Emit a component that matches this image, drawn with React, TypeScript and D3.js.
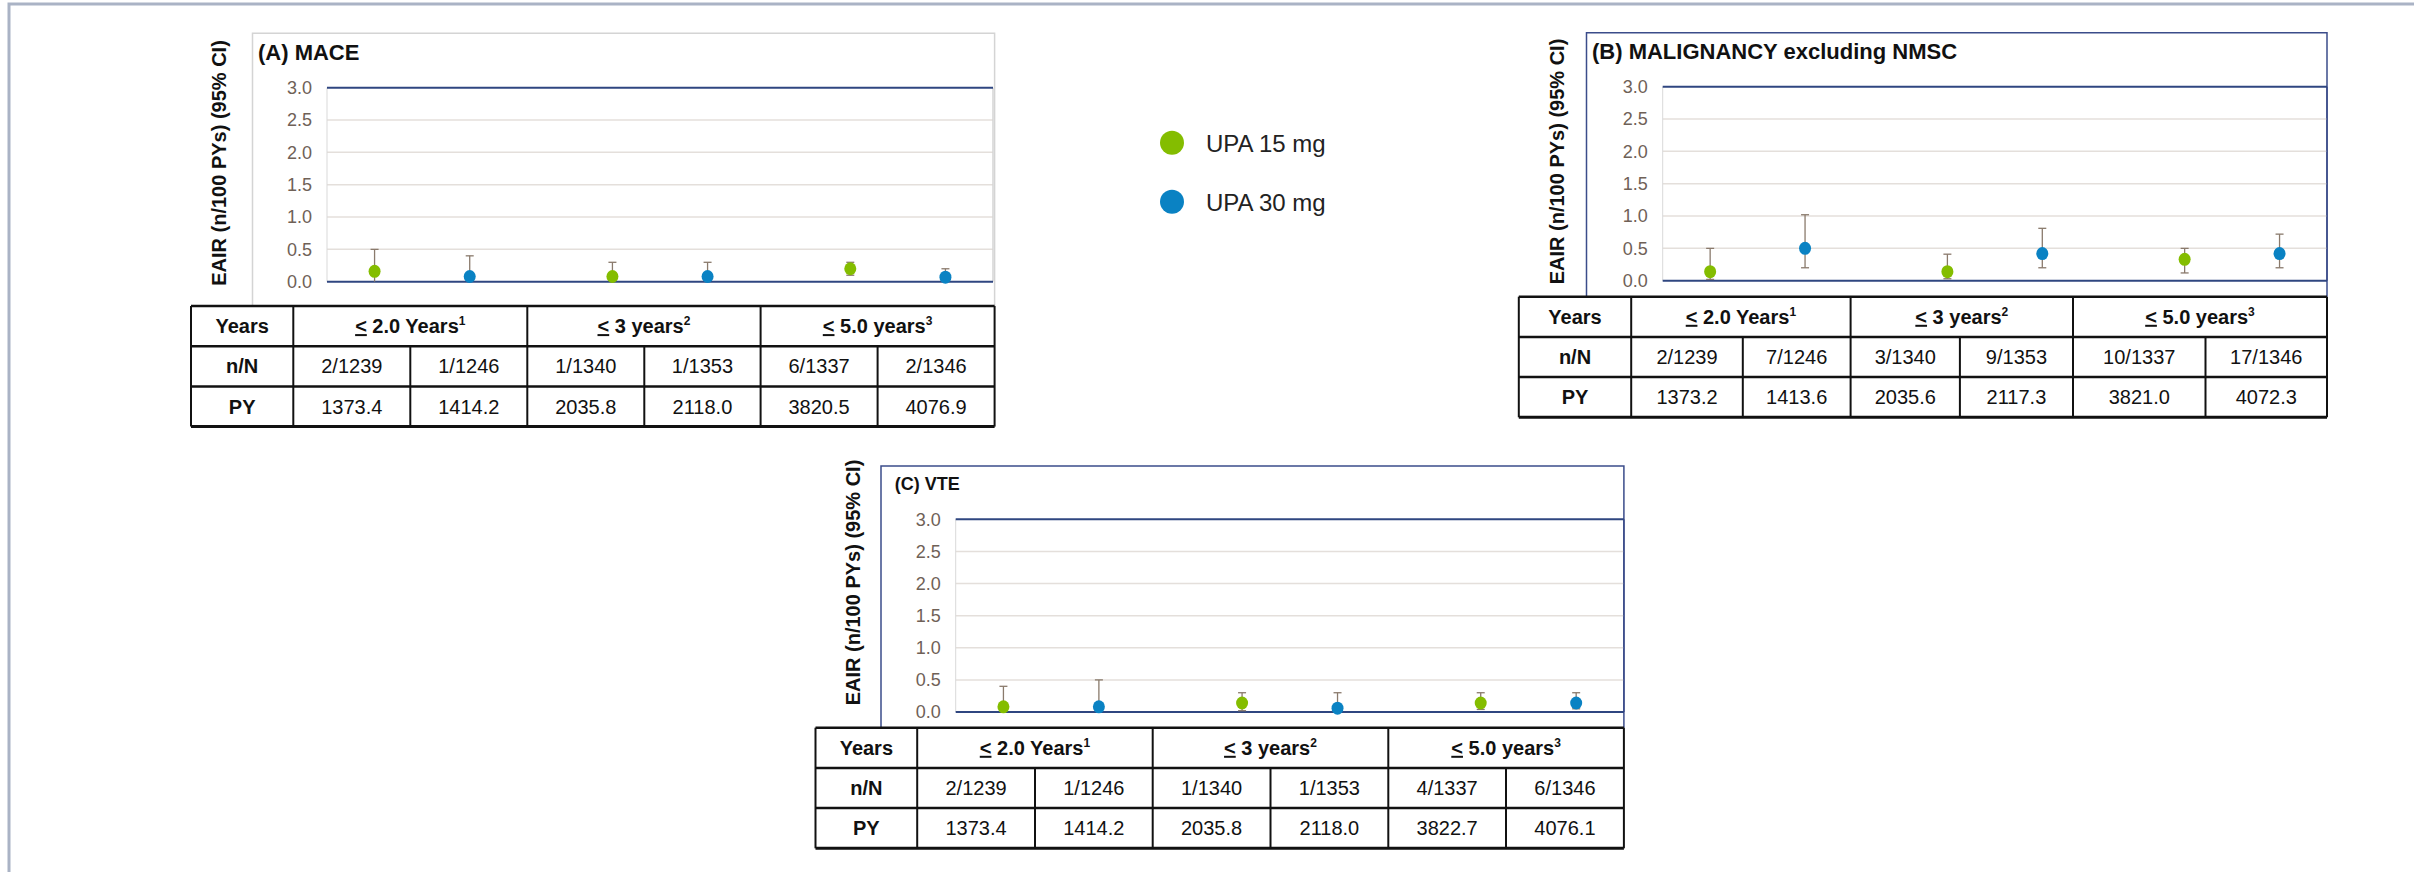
import React, { useEffect, useRef } from 'react';
import * as d3 from 'd3';

const doses = ['UPA 15 mg', 'UPA 30 mg'];
const doseColors = ['#84bd00', '#0a82c3'];
const periods = ['2.0 Years', '3 years', '5.0 years'];
const periodNotes = ['1', '2', '3'];
const rowLabels = ['Years', 'n/N', 'PY'];
// x value of each point, grouped in pairs (15 mg, 30 mg) per period
const xValues = [1, 2, 3.5, 4.5, 6, 7];
const doseIndex = [0, 1, 0, 1, 0, 1];
const yTicks = [0, 0.5, 1, 1.5, 2, 2.5, 3];

// (A) MACE
const maceRate = [0.16, 0.08, 0.08, 0.08, 0.2, 0.07];
const maceLow = [0, 0, 0, 0, 0.1, 0];
const maceHigh = [0.5, 0.4, 0.3, 0.3, 0.3, 0.2];
const maceNN = ['2/1239', '1/1246', '1/1340', '1/1353', '6/1337', '2/1346'];
const macePY = ['1373.4', '1414.2', '2035.8', '2118.0', '3820.5', '4076.9'];

// (B) Malignancy excluding NMSC
const maligRate = [0.14, 0.5, 0.14, 0.42, 0.33, 0.42];
const maligLow = [0.02, 0.2, 0.03, 0.2, 0.12, 0.2];
const maligHigh = [0.5, 1.02, 0.41, 0.81, 0.5, 0.72];
const maligNN = ['2/1239', '7/1246', '3/1340', '9/1353', '10/1337', '17/1346'];
const maligPY = ['1373.2', '1413.6', '2035.6', '2117.3', '3821.0', '4072.3'];

// (C) VTE
const vteRate = [0.08, 0.08, 0.14, 0.06, 0.14, 0.14];
const vteLow = [0, 0, 0.02, 0, 0.04, 0.05];
const vteHigh = [0.4, 0.5, 0.3, 0.3, 0.3, 0.3];
const vteNN = ['2/1239', '1/1246', '1/1340', '1/1353', '4/1337', '6/1346'];
const vtePY = ['1373.4', '1414.2', '2035.8', '2118.0', '3822.7', '4076.1'];

const FONT = 'Liberation Sans, Arial, sans-serif';
const NAVY = '#2f4680';

function Panel({ title, titleSize, rate, low, high, nN, py, lay }) {
  const axisRef = useRef(null);

  const x = d3.scaleLinear().domain([0.5, 7.5]).range([lay.plotL, lay.plotR]);
  const y = d3.scaleLinear().domain([0, 3]).range([lay.plotB, lay.plotT]);

  useEffect(() => {
    const g = d3.select(axisRef.current);
    g.selectAll('*').remove();
    g.call(
      d3.axisLeft(y)
        .tickValues(yTicks)
        .tickFormat(d3.format('.1f'))
        .tickSize(0)
        .tickPadding(15)
    );
    g.select('.domain').remove();
    g.attr('color', '#6f6157')
      .attr('font-size', 18)
      .attr('font-family', FONT);
  }, []);

  const cols = lay.cols;
  const rows = [0, 1, 2, 3].map(i => lay.tableT + i * lay.rowH);
  const mid = (a, b) => (a + b) / 2;
  const base = i => mid(rows[i], rows[i + 1]) + 7;

  return (
    <g>
      {/* outer chart frame */}
      <path
        d={`M${lay.frameL},${lay.tableT} V${lay.frameT} H${lay.frameR} V${lay.tableT}`}
        fill="none"
        stroke={lay.frameColor}
        strokeWidth={1.5}
      />
      <text x={lay.titleX} y={lay.titleY} fontSize={titleSize} fontWeight="bold" fontFamily={FONT} fill="#111">
        {title}
      </text>
      <text
        transform={`translate(${lay.labelX},${lay.labelY}) rotate(-90)`}
        textAnchor="middle"
        dominantBaseline="central"
        fontSize={20}
        fontWeight="bold"
        fontFamily={FONT}
        fill="#111"
      >
        EAIR (n/100 PYs) (95% CI)
      </text>

      {/* grid */}
      {yTicks.filter(t => t > 0 && t < 3).map(t => (
        <line key={t} x1={lay.plotL} x2={lay.plotR} y1={y(t)} y2={y(t)} stroke="#e4dfdb" strokeWidth={1.5} />
      ))}
      <line x1={lay.plotL} x2={lay.plotL} y1={y(3)} y2={y(0)} stroke="#d9d9d9" strokeWidth={1} />
      <line x1={lay.plotR} x2={lay.plotR} y1={y(3)} y2={y(0)} stroke={lay.frameColor} strokeWidth={1.5} />
      <line x1={lay.plotL} x2={lay.plotR} y1={y(3)} y2={y(3)} stroke={NAVY} strokeWidth={2} />
      <line x1={lay.plotL} x2={lay.plotR} y1={y(0)} y2={y(0)} stroke={NAVY} strokeWidth={2} />
      <g ref={axisRef} transform={`translate(${lay.plotL},0)`} />

      {/* error bars */}
      {xValues.map((v, i) => (
        <g key={'e' + i} stroke="#8a7a6c" strokeWidth={1.3}>
          <line x1={x(v)} x2={x(v)} y1={y(high[i])} y2={y(low[i])} />
          <line x1={x(v) - 4} x2={x(v) + 4} y1={y(high[i])} y2={y(high[i])} />
          {low[i] > 0.01 && <line x1={x(v) - 4} x2={x(v) + 4} y1={y(low[i])} y2={y(low[i])} />}
        </g>
      ))}
      {xValues.map((v, i) => (
        <ellipse key={'p' + i} cx={x(v)} cy={y(rate[i])} rx={6} ry={6.5} fill={doseColors[doseIndex[i]]} />
      ))}

      {/* table */}
      <g fontFamily={FONT} fontSize={20} fill="#111" textAnchor="middle">
        {rows.map((r, i) => (
          <line key={'h' + i} x1={cols[0]} x2={cols[7]} y1={r} y2={r} stroke="#111" strokeWidth={i === 3 ? 3 : 2.5} />
        ))}
        {cols.map((c, i) => (
          <line
            key={'v' + i}
            x1={c}
            x2={c}
            y1={i % 2 === 0 && i > 0 && i < 7 ? rows[1] : rows[0]}
            y2={rows[3]}
            stroke="#111"
            strokeWidth={2}
          />
        ))}
        {rowLabels.map((l, i) => (
          <text key={l} x={mid(cols[0], cols[1])} y={base(i)} fontWeight="bold">{l}</text>
        ))}
        {periods.map((p, k) => (
          <text key={p} x={mid(cols[1 + 2 * k], cols[3 + 2 * k])} y={base(0)} fontWeight="bold">
            <tspan textDecoration="underline">{'<'}</tspan>
            {' ' + p}
            <tspan fontSize={12} dy={-8}>{periodNotes[k]}</tspan>
          </text>
        ))}
        {nN.map((s, i) => (
          <text key={'n' + i} x={mid(cols[i + 1], cols[i + 2])} y={base(1)}>{s}</text>
        ))}
        {py.map((s, i) => (
          <text key={'y' + i} x={mid(cols[i + 1], cols[i + 2])} y={base(2)}>{s}</text>
        ))}
      </g>
    </g>
  );
}

const layA = {
  frameL: 252.5, frameT: 33.3, frameR: 994.6, frameColor: '#d4d4d4',
  plotL: 327, plotR: 993, plotT: 87.7, plotB: 281.7,
  titleX: 258, titleY: 59.5, labelX: 219.4, labelY: 163,
  tableT: 306, rowH: 40.2,
  cols: [191, 293.3, 410.3, 527.3, 644.3, 760.6, 877.6, 994.6],
};
const layB = {
  frameL: 1586.5, frameT: 32.7, frameR: 2327, frameColor: '#3b4c8a',
  plotL: 1662.7, plotR: 2327, plotT: 86.7, plotB: 280.7,
  titleX: 1592, titleY: 59.3, labelX: 1557.3, labelY: 161.5,
  tableT: 296.7, rowH: 40.2,
  cols: [1518.8, 1631.2, 1742.8, 1850.6, 1959.9, 2073, 2205.5, 2327],
};
const layC = {
  frameL: 881, frameT: 466, frameR: 1623.9, frameColor: '#3b4c8a',
  plotL: 955.7, plotR: 1623.9, plotT: 519.3, plotB: 712,
  titleX: 894.8, titleY: 490, labelX: 852.5, labelY: 582.5,
  tableT: 727.7, rowH: 40.2,
  cols: [815.5, 917.2, 1035, 1152.7, 1270.5, 1388.3, 1506, 1623.9],
};

export default function App() {
  const legendY = d3.scalePoint().domain(doses).range([142.7, 201.7]);
  return (
    <svg
      width={2414}
      height={872}
      style={{ position: 'absolute', left: 0, top: 0, background: '#fff' }}
    >
      <rect width={2414} height={872} fill="#fff" />
      <path d="M9,872 V4 H2414" fill="none" stroke="#aab3c5" strokeWidth={3} />

      <Panel title="(A) MACE" titleSize={22} rate={maceRate} low={maceLow} high={maceHigh} nN={maceNN} py={macePY} lay={layA} />
      <Panel title="(B) MALIGNANCY excluding NMSC" titleSize={22} rate={maligRate} low={maligLow} high={maligHigh} nN={maligNN} py={maligPY} lay={layB} />
      <Panel title="(C) VTE" titleSize={18} rate={vteRate} low={vteLow} high={vteHigh} nN={vteNN} py={vtePY} lay={layC} />

      {doses.map((d, i) => (
        <g key={d}>
          <circle cx={1172} cy={legendY(d)} r={12} fill={doseColors[i]} />
          <text x={1206} y={legendY(d) + 9} fontSize={24} fontFamily={FONT} fill="#222">{d}</text>
        </g>
      ))}
    </svg>
  );
}
